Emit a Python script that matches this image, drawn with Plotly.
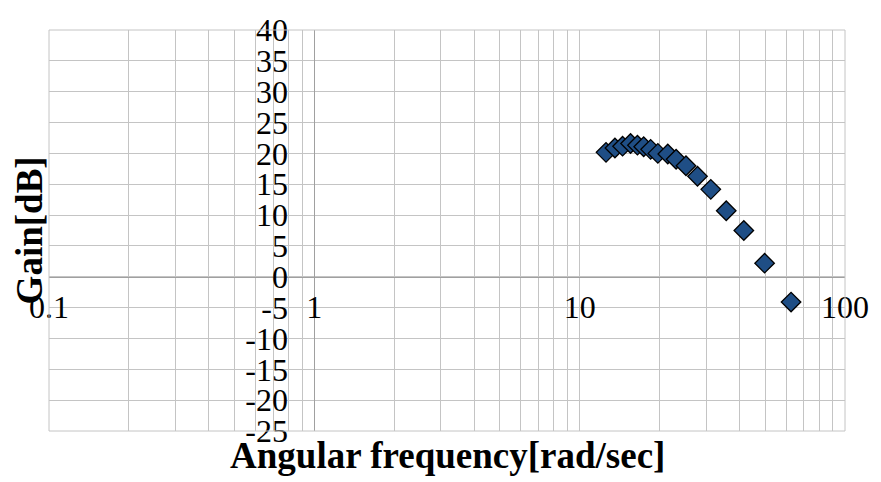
import plotly.graph_objects as go

# Data
omega = [12.57, 13.58, 14.51, 15.55, 16.51, 17.43, 18.51, 19.71, 21.48, 23.09,
         25.16, 27.8, 31.2, 35.68, 41.56, 49.77, 62.62]
gain_db = [20.17, 20.87, 21.17, 21.6, 21.33, 21.07, 20.65, 20.0, 19.9, 19.05,
           18.0, 16.3, 14.17, 10.7, 7.5, 2.2, -4.1]

x_major = [0.1, 1, 10, 100]
x_major_labels = ["0.1", "1", "10", "100"]
y_ticks = list(range(-25, 41, 5))

x_grid = []
for d in [0.1, 1, 10]:
    for m in range(1, 10):
        x_grid.append(round(d * m, 6))
x_grid.append(100)
x_text = [x_major_labels[x_major.index(v)] if v in x_major else "" for v in x_grid]

FONT = "Liberation Serif"
GRID = "#C4C4C4"
AXIS = "#A0A0A0"

fig = go.Figure()
fig.add_trace(go.Scatter(
    x=omega, y=gain_db, mode="markers",
    marker=dict(symbol="diamond", size=15, color="#1F4E85",
                line=dict(color="#000000", width=1.3)),
    showlegend=False,
))

ymin, ymax = -25, 40
fig.update_layout(
    width=881, height=482,
    margin=dict(l=49, r=29, t=23, b=51),
    paper_bgcolor="white", plot_bgcolor="white",
    xaxis=dict(
        type="log", range=[-1, 2],
        tickmode="array", tickvals=x_grid, ticktext=x_text,
        showgrid=True, gridcolor=GRID, gridwidth=1,
        zeroline=False,
        anchor="free", position=(0 - ymin) / (ymax - ymin),
        ticks="outside", ticklen=2, tickcolor="rgba(0,0,0,0)",
        tickfont=dict(family=FONT, size=32, color="black"),
        showline=True, linecolor=AXIS, linewidth=1,
    ),
    yaxis=dict(
        range=[ymin, ymax],
        tickmode="array", tickvals=y_ticks, ticktext=[str(v) for v in y_ticks],
        showgrid=True, gridcolor=GRID, gridwidth=1,
        zeroline=False,
        anchor="free", position=1 / 3,
        ticks="outside", ticklen=20, tickcolor="rgba(0,0,0,0)",
        tickfont=dict(family=FONT, size=32, color="black"),
        showline=True, linecolor=AXIS, linewidth=1,
    ),
    annotations=[
        dict(text="<b>Angular frequency[rad/sec]</b>", xref="paper", yref="paper",
             x=0.5, y=-0.06, xanchor="center", yanchor="middle", showarrow=False,
             font=dict(family=FONT, size=37, color="black")),
        dict(text="<b>Gain[dB]</b>", xref="paper", yref="paper",
             x=-0.024, y=0.5, xanchor="center", yanchor="middle", showarrow=False,
             textangle=-90,
             font=dict(family=FONT, size=37, color="black")),
    ],
)

fig.add_shape(type="rect", xref="paper", yref="paper", x0=0, y0=0, x1=1, y1=1,
              line=dict(color=GRID, width=1))

fig.write_html("out.html")
